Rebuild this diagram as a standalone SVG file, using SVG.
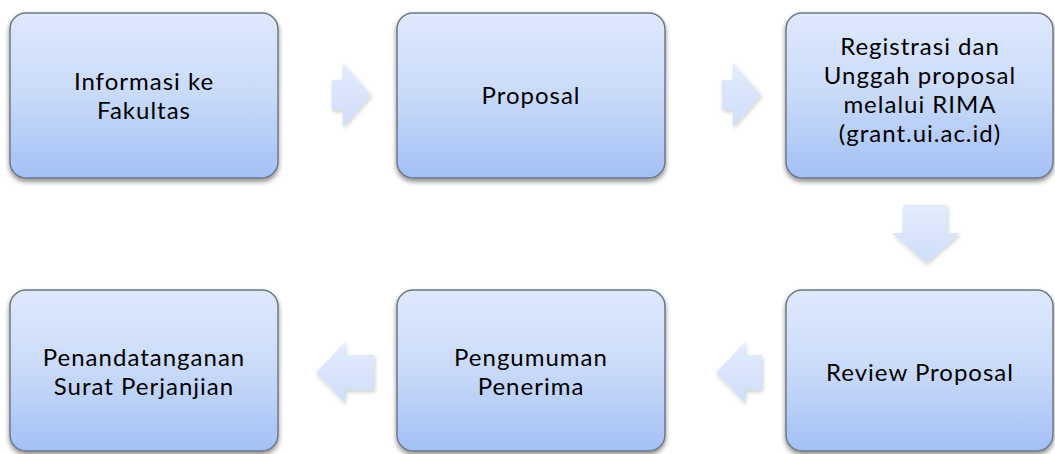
<svg xmlns="http://www.w3.org/2000/svg" width="1055" height="454" viewBox="0 0 1055 454">
<style>
.box{fill:url(#bg);stroke:#6c7888;stroke-width:1.5;filter:url(#sh)}
.arr{fill:url(#ag);filter:url(#ash)}
text{font-family:"Lato","Noto Sans",sans-serif;font-size:24px;letter-spacing:1px;fill:#000;text-anchor:middle}
</style>
<defs>
<linearGradient id="bg" x1="0" y1="0" x2="0" y2="1">
<stop offset="0" stop-color="#dfe9fc"/>
<stop offset="0.5" stop-color="#c9daf9"/>
<stop offset="1" stop-color="#a3c0f5"/>
</linearGradient>
<linearGradient id="ag" x1="0" y1="0" x2="0" y2="1">
<stop offset="0" stop-color="#e4ecfc"/>
<stop offset="1" stop-color="#cfddfa"/>
</linearGradient>
<filter id="sh" x="-10%" y="-10%" width="120%" height="130%">
<feGaussianBlur in="SourceAlpha" stdDeviation="2.5"/>
<feOffset dx="0" dy="3" result="b"/>
<feComponentTransfer><feFuncA type="linear" slope="0.45"/></feComponentTransfer>
<feMerge><feMergeNode/><feMergeNode in="SourceGraphic"/></feMerge>
</filter>
<filter id="ash" x="-20%" y="-20%" width="150%" height="150%">
<feGaussianBlur in="SourceAlpha" stdDeviation="2"/>
<feOffset dx="1" dy="2"/>
<feComponentTransfer><feFuncA type="linear" slope="0.2"/></feComponentTransfer>
<feMerge><feMergeNode/><feMergeNode in="SourceGraphic"/></feMerge>
</filter>
</defs>
<g id="connectors">
<polygon class="arr" points="332,80 343,80 343,63 371,95 343,127 343,110 332,110"/>
<polygon class="arr" points="722,80 733,80 733,63 761,95 733,127 733,110 722,110"/>
<polygon class="arr" points="903,205 947,205 947,233 960,233 926,263 892,233 903,233"/>
<polygon class="arr" points="762,355 745,355 745,342 716,373 745,403 745,390 762,390"/>
<polygon class="arr" points="374,355 345,355 345,342 316,373 345,403 345,390 374,390"/>
</g>
<g id="n1"><rect class="box" x="10" y="13" width="268" height="165" rx="16"/><text x="144" y="90">Informasi ke</text><text x="144" y="119">Fakultas</text></g>
<g id="n2"><rect class="box" x="397" y="13" width="268" height="165" rx="16"/><text x="531" y="104">Proposal</text></g>
<g id="n3"><rect class="box" x="786" y="13" width="267" height="165" rx="16"/><text x="920" y="55">Registrasi dan</text><text x="920" y="84">Unggah proposal</text><text x="920" y="113">melalui RIMA</text><text x="920" y="142">(grant.ui.ac.id)</text></g>
<g id="n4"><rect class="box" x="786" y="290" width="267" height="161" rx="16"/><text x="920" y="381">Review Proposal</text></g>
<g id="n5"><rect class="box" x="397" y="290" width="268" height="161" rx="16"/><text x="531" y="366">Pengumuman</text><text x="531" y="395">Penerima</text></g>
<g id="n6"><rect class="box" x="10" y="290" width="268" height="161" rx="16"/><text x="144" y="366">Penandatanganan</text><text x="144" y="395">Surat Perjanjian</text></g>
</svg>
